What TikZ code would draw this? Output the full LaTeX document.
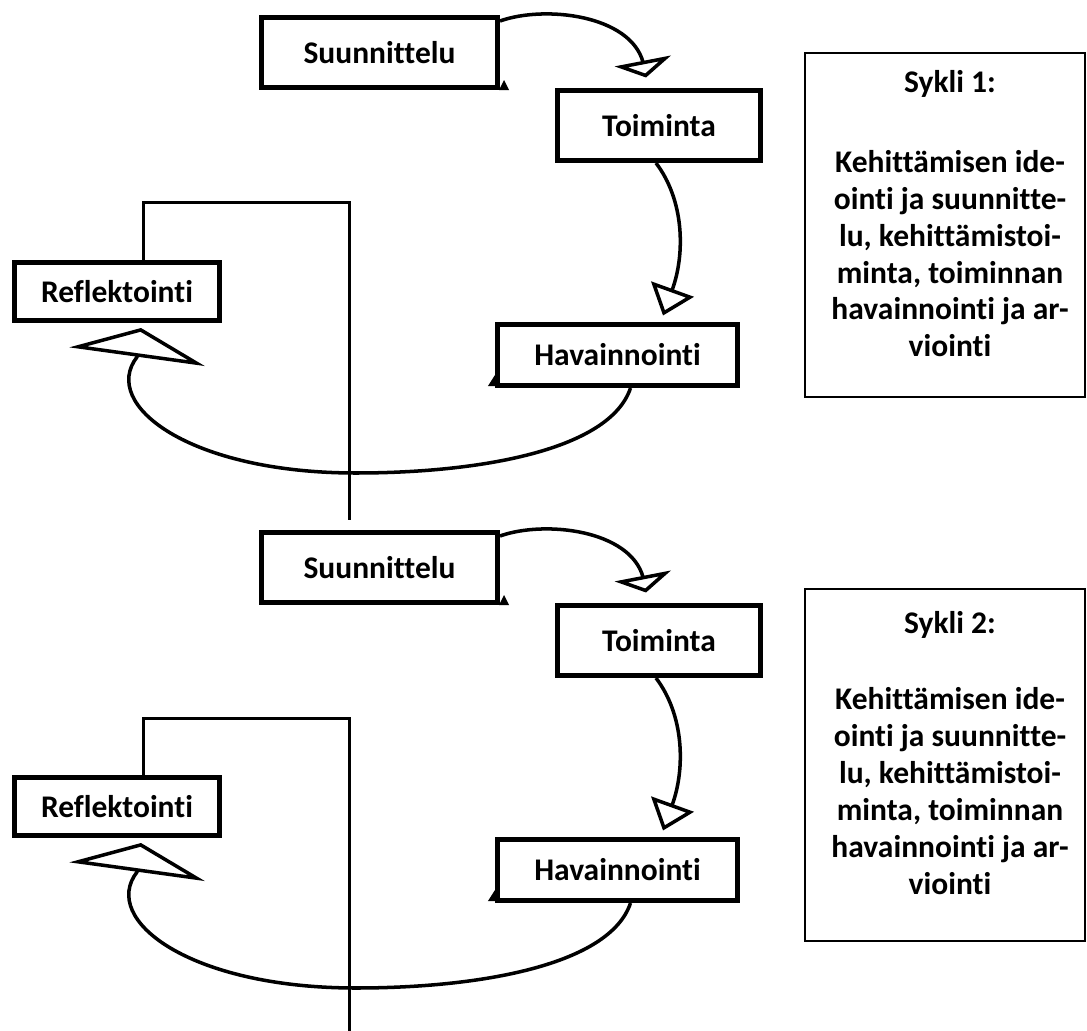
\documentclass[tikz,border=0pt]{standalone}
\usepackage{fontspec}
\setmainfont{Carlito}[Ligatures=NoCommon]
\usepackage{tikz}
\usetikzlibrary{arrows.meta,positioning,calc}

\begin{document}
\begin{tikzpicture}[x=0.025cm, y=-0.025cm, line width=2.5pt, main node/.style={rectangle,draw,line width=0.125cm,inner sep=0pt,font=\fontsize{22.4}{26}\selectfont\bfseries},sykli box/.style={rectangle,draw,line width=0.05cm,minimum width=7cm},sykli text/.style={align=center,inner sep=0pt,font=\fontsize{22.4}{26.3}\selectfont\bfseries},arrow small/.style={-{Triangle[open,length=12pt,width=40.5pt]}},arrow mid/.style={-{Triangle[open,length=20pt,width=32pt]}},arrow wide/.style={-{Triangle[open,length=20.6pt,width=97pt]}},bracket/.style={line width=0.075cm}]
\useasboundingbox (0,0) rectangle (1087,1031);
% sykli 1
\begin{scope}
\node[main node,minimum width=5.9cm,minimum height=1.75cm] (s1) at (379.5,52.5) {Suunnittelu};
\node[main node,minimum width=5.075cm,minimum height=1.75cm] (t1) at (659,125.5) {Toiminta};
\node[main node,minimum width=6cm,minimum height=1.525cm] (h1) at (617.5,355) {Havainnointi};
\node[main node,minimum width=5.125cm,minimum height=1.45cm] (r1) at (117,291.5) {Reflektointi};
\node[sykli box,minimum height=8.6cm] (y1) at (945,225) {};
\node[sykli text] (y1t) at (950,214) {Sykli 1:\\[30pt]Kehittämisen ide-\\ointi ja suunnitte-\\lu, kehittämistoi-\\minta, toiminnan\\havainnointi ja ar-\\viointi};
\coordinate (k1) at (349,203);
\coordinate (e1) at (349,520);
\end{scope}
\begin{scope}
\draw[arrow small] ($(s1.north east)+(0,6)$) .. controls (545,5) and (630,15) .. (643,62) -- ($(t1.north)+(-13,-10.5)$);
\draw[arrow mid] ($(t1.south)+(-3,0)$) .. controls (684,200) and (685.5,253) .. ($(h1.north)+(45.5,-6.5)$);
\draw[arrow wide] ($(h1.south)+(13,0)$) .. controls (610,450) and (480,473) .. (356,473) .. controls (190,473) and (100,405) .. (137,357) -- ($(r1.south)+(24,5)$);
\draw[bracket] ($(r1.north)+(26,0)$) |- (k1) -- (e1);
\fill ($(s1.south east)+(4,-10)$) -- ($(s1.south east)+(-1,0)$) -- ($(s1.south east)+(9,0)$) -- cycle;
\fill ($(h1.south west)+(0,-13)$) -- ($(h1.south west)+(-7,-2)$) -- ($(h1.south west)+(7,-2)$) -- cycle;
\end{scope}
% sykli 2
\begin{scope}
\node[main node,minimum width=5.9cm,minimum height=1.75cm] (s2) at (379.5,567.5) {Suunnittelu};
\node[main node,minimum width=5.075cm,minimum height=1.75cm] (t2) at (659,640.5) {Toiminta};
\node[main node,minimum width=6cm,minimum height=1.525cm] (h2) at (617.5,870) {Havainnointi};
\node[main node,minimum width=5.125cm,minimum height=1.45cm] (r2) at (117,806.5) {Reflektointi};
\node[sykli box,minimum height=8.8cm] (y2) at (945,765) {};
\node[sykli text] (y2t) at (950,753) {Sykli 2:\\[28pt]Kehittämisen ide-\\ointi ja suunnitte-\\lu, kehittämistoi-\\minta, toiminnan\\havainnointi ja ar-\\viointi};
\coordinate (k2) at (349,718);
\coordinate (e2) at (349,1031);
\end{scope}
\begin{scope}
\draw[arrow small] ($(s2.north east)+(0,6)$) .. controls (545,520) and (630,530) .. (643,577) -- ($(t2.north)+(-13,-10.5)$);
\draw[arrow mid] ($(t2.south)+(-3,0)$) .. controls (684,715) and (685.5,768) .. ($(h2.north)+(45.5,-6.5)$);
\draw[arrow wide] ($(h2.south)+(13,0)$) .. controls (610,965) and (480,988) .. (356,988) .. controls (190,988) and (100,920) .. (137,872) -- ($(r2.south)+(24,5)$);
\draw[bracket] ($(r2.north)+(26,0)$) |- (k2) -- (e2);
\fill ($(s2.south east)+(4,-10)$) -- ($(s2.south east)+(-1,0)$) -- ($(s2.south east)+(9,0)$) -- cycle;
\fill ($(h2.south west)+(0,-13)$) -- ($(h2.south west)+(-7,-2)$) -- ($(h2.south west)+(7,-2)$) -- cycle;
\end{scope}
\end{tikzpicture}
\end{document}
